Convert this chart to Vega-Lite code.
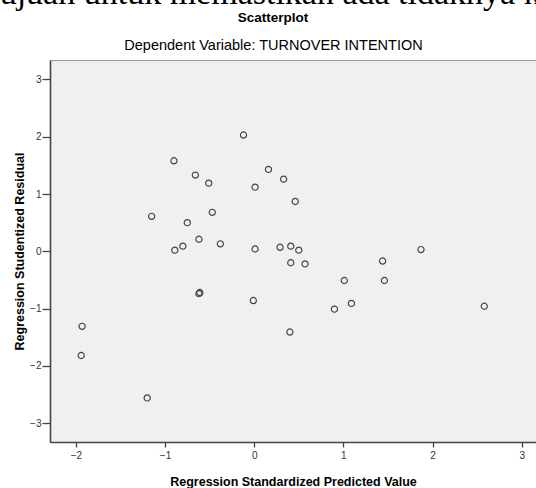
{
  "$schema": "https://vega.github.io/schema/vega-lite/v6.json",
  "autosize": {"type": "none"},
  "padding": {"left": 50, "top": 60, "right": 0, "bottom": 46},
  "width": 486,
  "height": 382,
  "background": "white",
  "title": {
    "text": "tujuan untuk memastikan ada tidaknya ke",
    "font": "Liberation Serif",
    "fontSize": 34,
    "fontWeight": "normal",
    "color": "black",
    "subtitle": "Scatterplot",
    "subtitleFont": "Liberation Sans",
    "subtitleFontSize": 13.5,
    "subtitleFontWeight": "bold",
    "subtitleColor": "black",
    "subtitlePadding": 0,
    "anchor": "middle",
    "dx": -20,
    "offset": 13
  },
  "data": {
    "values": [
      {"predicted": -0.12, "residual": 2.03},
      {"predicted": -0.90, "residual": 1.58},
      {"predicted": -0.66, "residual": 1.33},
      {"predicted": -0.51, "residual": 1.19},
      {"predicted": 0.16, "residual": 1.43},
      {"predicted": 0.01, "residual": 1.12},
      {"predicted": 0.33, "residual": 1.26},
      {"predicted": 0.46, "residual": 0.87},
      {"predicted": -1.15, "residual": 0.61},
      {"predicted": -0.75, "residual": 0.50},
      {"predicted": -0.47, "residual": 0.68},
      {"predicted": -0.62, "residual": 0.21},
      {"predicted": -0.38, "residual": 0.13},
      {"predicted": -0.89, "residual": 0.02},
      {"predicted": -0.80, "residual": 0.09},
      {"predicted": 0.01, "residual": 0.04},
      {"predicted": 0.29, "residual": 0.07},
      {"predicted": 0.41, "residual": 0.09},
      {"predicted": 0.50, "residual": 0.02},
      {"predicted": 0.41, "residual": -0.20},
      {"predicted": 0.57, "residual": -0.22},
      {"predicted": 1.44, "residual": -0.17},
      {"predicted": 1.87, "residual": 0.03},
      {"predicted": 1.01, "residual": -0.51},
      {"predicted": 1.46, "residual": -0.51},
      {"predicted": 0.90, "residual": -1.01},
      {"predicted": 1.09, "residual": -0.91},
      {"predicted": 2.58, "residual": -0.96},
      {"predicted": 0.40, "residual": -1.41},
      {"predicted": -0.61, "residual": -0.72},
      {"predicted": -0.62, "residual": -0.74},
      {"predicted": -0.01, "residual": -0.86},
      {"predicted": -1.93, "residual": -1.31},
      {"predicted": -1.94, "residual": -1.82},
      {"predicted": -1.20, "residual": -2.56}
    ]
  },
  "layer": [
    {
      "mark": {"type": "point", "shape": "circle", "filled": false, "stroke": "#444444", "strokeWidth": 1.2, "size": 38, "opacity": 1},
      "encoding": {
        "x": {
          "field": "predicted", "type": "quantitative",
          "scale": {"domain": [-2.29, 3.16], "nice": false, "zero": false},
          "axis": {
            "orient": "bottom", "values": [-2, -1, 0, 1, 2, 3], "format": "d", "grid": false,
            "title": "Regression Standardized Predicted Value",
            "titleFont": "Liberation Sans", "titleFontSize": 12.5, "titleFontWeight": "bold", "titleColor": "black",
            "titlePadding": 15,
            "labelFont": "Liberation Sans Narrow, Liberation Sans", "labelFontSize": 10, "labelColor": "#333333", "labelPadding": 3,
            "domainColor": "#444444", "domainWidth": 1.6,
            "tickColor": "#444444", "tickWidth": 1.3, "tickSize": 5
          }
        },
        "y": {
          "field": "residual", "type": "quantitative",
          "scale": {"domain": [-3.33, 3.34], "nice": false, "zero": false},
          "axis": {
            "values": [-3, -2, -1, 0, 1, 2, 3], "format": "d", "grid": false,
            "title": "Regression Studentized Residual",
            "titleFont": "Liberation Sans", "titleFontSize": 12.5, "titleFontWeight": "bold", "titleColor": "black",
            "titlePadding": 3,
            "labelFont": "Liberation Sans Narrow, Liberation Sans", "labelFontSize": 10, "labelColor": "#333333", "labelPadding": 1,
            "domainColor": "#444444", "domainWidth": 1.6,
            "tickColor": "#444444", "tickWidth": 1.3, "tickSize": 8
          }
        }
      }
    },
    {
      "mark": {"type": "point", "opacity": 0},
      "encoding": {
        "x": {
          "field": "predicted", "type": "quantitative",
          "axis": {
            "orient": "top", "grid": false, "ticks": false, "labels": false,
            "title": "Dependent Variable: TURNOVER INTENTION",
            "titleFont": "Liberation Sans", "titleFontSize": 14.5, "titleFontWeight": "normal", "titleColor": "black",
            "titlePadding": 8, "titleX": 223,
            "domainColor": "#999999", "domainWidth": 1
          }
        },
        "y": {"field": "residual", "type": "quantitative"}
      }
    }
  ],
  "resolve": {"axis": {"x": "independent"}},
  "config": {
    "view": {"fill": "#f0f0f0", "stroke": null}
  }
}
